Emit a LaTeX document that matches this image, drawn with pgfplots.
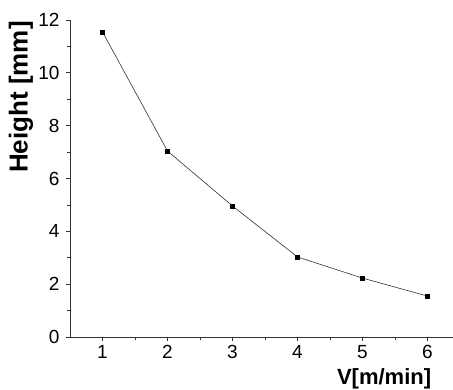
\documentclass[border=0pt]{standalone}
\usepackage{fontspec}
\setmainfont{Liberation Sans}
\usepackage{pgfplots}
\pgfplotsset{compat=1.18}
\begin{document}
\begin{tikzpicture}[x=1pt,y=1pt]
\useasboundingbox (-70,-52) rectangle (383,337);
\begin{axis}[
  at={(0,0)}, anchor=south west,
  scale only axis, width=383.5pt, height=317pt,
  xmin=0.5, xmax=6.4, ymin=0, ymax=12,
  axis lines=left, axis line style={-, line width=0.8pt, black!80},
  xtick={1,2,3,4,5,6}, ytick={0,2,4,6,8,10,12},
  minor x tick num=1, minor y tick num=1,
  tick align=outside, major tick length=4pt, minor tick length=2.5pt,
  tick style={black!80, line width=0.7pt},
  /pgf/number format/assume math mode=true,
  ticklabel style={font=\fontsize{19}{19}\selectfont},
  xticklabel style={yshift=-1pt},
  yticklabel style={xshift=-3pt},
  xlabel={V[m/min]}, ylabel={Height [mm]},
  xlabel style={font=\bfseries\fontsize{22}{22}\selectfont, at={(axis description cs:0.819,-0.1325)}, anchor=center},
  ylabel style={font=\bfseries\fontsize{26}{26}\selectfont, at={(axis description cs:-0.128,0.757)}, anchor=center, rotate=0},
  clip=false,
]
\addplot[black!80, line width=0.6pt, mark=square*, mark size=2pt, mark options={black, solid}]
  coordinates {(1,11.55) (2,7.04) (3,4.96) (4,3.03) (5,2.23) (6,1.55)};
\end{axis}
\end{tikzpicture}
\end{document}
